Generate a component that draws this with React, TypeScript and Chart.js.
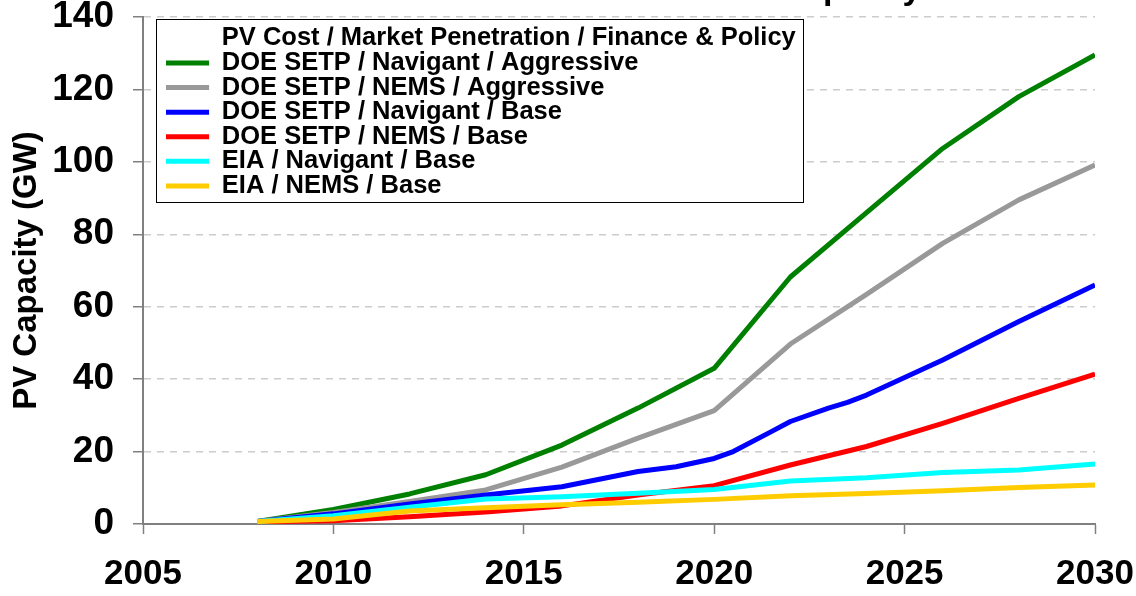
import React, { useEffect, useRef } from 'react';
import { Chart, registerables } from 'chart.js';

Chart.register(...registerables);

const FONT = '"Liberation Sans", Arial, Helvetica, sans-serif';

const TITLE = 'Cumulative Installed U.S. Solar PV Capacity';
const Y_TITLE = 'PV Capacity (GW)';
const LEGEND_HEADER = 'PV Cost / Market Penetration / Finance & Policy';

const seriesLabels = [
  'DOE SETP / Navigant / Aggressive',
  'DOE SETP / NEMS / Aggressive',
  'DOE SETP / Navigant / Base',
  'DOE SETP / NEMS / Base',
  'EIA / Navigant / Base',
  'EIA / NEMS / Base',
];
const seriesColors = ['#008000', '#999999', '#0000FF', '#FF0000', '#00FFFF', '#FFCC00'];

const years = [2008, 2010, 2012, 2014, 2016, 2018, 2020, 2022, 2024, 2026, 2028, 2030];
const blueYears = [2008, 2010, 2012, 2014, 2016, 2018, 2019, 2020, 2020.5, 2021.5, 2022, 2023, 2023.5, 2024, 2026, 2028, 2030];

const greenVals = [0.7, 4.0, 8.3, 13.6, 21.8, 32.0, 43.0, 68.2, 86.0, 103.7, 118.0, 129.5];
const grayVals = [0.7, 3.2, 6.2, 9.4, 15.7, 23.7, 31.3, 49.7, 63.4, 77.5, 89.5, 99.1];
const blueVals = [0.7, 2.8, 5.5, 8.0, 10.3, 14.5, 15.8, 18.1, 20.0, 25.5, 28.3, 32.0, 33.6, 35.6, 45.3, 55.9, 66.0];
const redVals = [0.6, 0.9, 2.0, 3.3, 5.0, 8.0, 10.6, 16.3, 21.4, 27.8, 34.7, 41.4];
const cyanVals = [0.7, 2.3, 4.6, 6.9, 7.5, 8.5, 9.5, 11.9, 12.8, 14.2, 14.9, 16.6];
const yellowVals = [0.7, 1.4, 3.6, 4.5, 5.3, 6.0, 6.8, 7.8, 8.4, 9.2, 10.1, 10.8];

const xTicks = [2005, 2010, 2015, 2020, 2025, 2030];
const yTicks = [0, 20, 40, 60, 80, 100, 120, 140];

const toPts = (xs: number[], ys: number[]) => xs.map((x, i) => ({ x, y: ys[i] }));

export default function App() {
  const ref = useRef<HTMLCanvasElement>(null);

  useEffect(() => {
    const canvas = ref.current;
    if (!canvas) return;

    const dataSets = [
      toPts(years, greenVals),
      toPts(years, grayVals),
      toPts(blueYears, blueVals),
      toPts(years, redVals),
      toPts(years, cyanVals),
      toPts(years, yellowVals),
    ];

    const legendBoxPlugin = {
      id: 'legendBox',
      afterLayout(chart: any) {
        const lg = chart.legend;
        const ca = chart.chartArea;
        if (!lg || !ca) return;
        lg.left = ca.left + 23;
        lg.top = ca.top + 9.5;
        lg.right = lg.left + lg.width + 30;
        lg.bottom = lg.top + lg.height;
        if (!lg.__patched) {
          lg.__patched = true;
          const orig = lg.draw;
          lg.draw = function (...args: any[]) {
            const boxes = this.legendHitBoxes || [];
            if (boxes.length) {
              let l = Infinity, t = Infinity, r = -Infinity, b = -Infinity;
              boxes.forEach((h: any) => {
                l = Math.min(l, h.left);
                t = Math.min(t, h.top);
                r = Math.max(r, h.left + h.width);
                b = Math.max(b, h.top + h.height);
              });
              const ctx = this.ctx;
              ctx.save();
              const x0 = Math.round(l - 9) + 0.5;
              const y0 = Math.round(t - 7) + 0.5;
              const x1 = Math.round(r + 7) + 0.5;
              const y1 = Math.round(b + 3.5) + 0.5;
              ctx.fillStyle = '#ffffff';
              ctx.fillRect(x0, y0, x1 - x0, y1 - y0);
              ctx.strokeStyle = '#000000';
              ctx.lineWidth = 1;
              ctx.strokeRect(x0, y0, x1 - x0, y1 - y0);
              ctx.restore();
            }
            return orig.apply(this, args);
          };
        }
      },
    };

    const chart = new Chart(canvas, {
      type: 'line',
      data: {
        datasets: dataSets.map((d, i) => ({
          label: seriesLabels[i],
          data: d,
          borderColor: seriesColors[i],
          backgroundColor: seriesColors[i],
          borderWidth: 5,
          pointRadius: 0,
          pointHoverRadius: 0,
          tension: 0,
          fill: false,
          borderJoinStyle: 'round' as const,
          borderCapStyle: 'butt' as const,
          order: seriesLabels.length - 1 - i,
        })),
      },
      options: {
        responsive: false,
        animation: false,
        devicePixelRatio: 1,
        layout: { padding: { left: 0, right: 0, top: 0, bottom: 0 } },
        plugins: {
          title: {
            display: true,
            text: TITLE,
            color: '#000000',
            font: { family: FONT, size: 34, weight: 'bold', lineHeight: 1.2 },
            padding: { top: -31, bottom: 7.2 },
          },
          legend: {
            display: true,
            position: 'chartArea' as any,
            align: 'start',
            onClick: () => {},
            labels: {
              color: '#000000',
              font: { family: FONT, size: 25.5, weight: 'bold' },
              boxWidth: 44,
              boxHeight: 5,
              padding: -0.9,
              generateLabels: (ch: any) => [
                {
                  text: LEGEND_HEADER,
                  fillStyle: 'rgba(0,0,0,0)',
                  strokeStyle: 'rgba(0,0,0,0)',
                  lineWidth: 0,
                  hidden: false,
                  fontColor: '#000000',
                },
                ...ch.data.datasets.map((ds: any, i: number) => ({
                  text: ds.label,
                  fillStyle: ds.borderColor,
                  strokeStyle: ds.borderColor,
                  lineWidth: 0,
                  hidden: false,
                  datasetIndex: i,
                  fontColor: '#000000',
                })),
              ],
            },
          },
          tooltip: { enabled: false },
        },
        scales: {
          x: {
            type: 'linear',
            min: xTicks[0],
            max: xTicks[xTicks.length - 1],
            afterBuildTicks: (s: any) => {
              s.ticks = xTicks.map((v) => ({ value: v }));
            },
            ticks: {
              color: '#000000',
              font: { family: FONT, size: 35, weight: 'bold', lineHeight: 1.2 },
              padding: 19,
              maxRotation: 0,
              autoSkip: false,
              callback: (v: any) => String(v),
            },
            grid: {
              drawOnChartArea: false,
              drawTicks: true,
              tickLength: 10,
              tickColor: '#808080',
              tickWidth: 1.5,
            },
            border: { color: '#808080', width: 2 },
            afterFit: (s: any) => {
              s.height = 72;
              s.paddingLeft = 0;
              s.paddingRight = 41;
            },
          },
          y: {
            type: 'linear',
            min: yTicks[0],
            max: yTicks[yTicks.length - 1],
            afterBuildTicks: (s: any) => {
              s.ticks = yTicks.map((v) => ({ value: v }));
            },
            ticks: {
              color: '#000000',
              font: { family: FONT, size: 37, weight: 'bold', lineHeight: 1.2 },
              padding: 19,
              callback: (v: any) => String(v),
            },
            grid: {
              color: '#cccccc',
              lineWidth: 1.5,
              drawTicks: true,
              tickLength: 10,
              tickColor: '#808080',
              tickWidth: 1.5,
              tickBorderDash: [],
            },
            border: { color: '#808080', width: 2, dash: [7, 6] },
            title: {
              display: true,
              text: Y_TITLE,
              color: '#000000',
              font: { family: FONT, size: 33, weight: 'bold', lineHeight: 1.2 },
              padding: { top: 7, bottom: 0 },
            },
            afterFit: (s: any) => {
              s.width = 143;
              s.paddingTop = 0;
              s.paddingBottom = 0;
            },
          },
        },
      } as any,
      plugins: [legendBoxPlugin],
    });

    return () => {
      chart.destroy();
    };
  }, []);

  return (
    <div style={{ position: 'absolute', left: 0, top: 0, width: 1136, height: 596, background: '#ffffff' }}>
      <canvas ref={ref} width={1136} height={596} style={{ display: 'block', width: 1136, height: 596 }} />
    </div>
  );
}
